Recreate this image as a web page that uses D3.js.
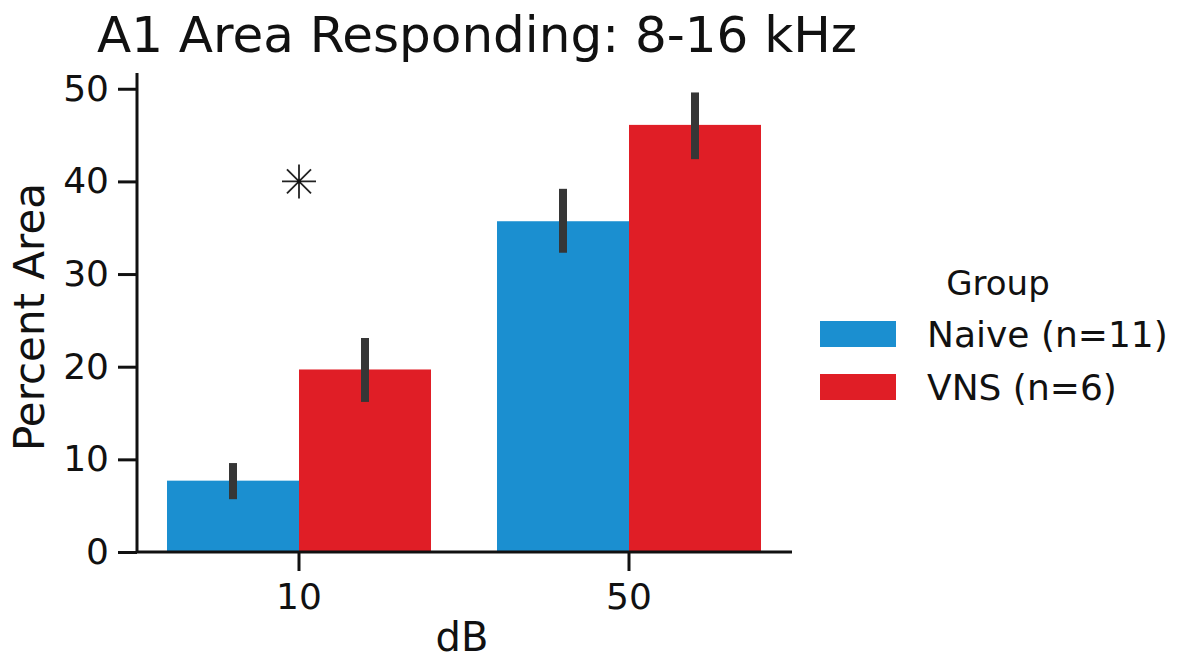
<!DOCTYPE html>
<html>
<head>
  <title>A1 Area Responding: 8-16 kHz</title>
  <script src="https://d3js.org/d3.v7.min.js"></script>
  <style>
    body { margin: 0; background: #fff; }
    text { font-family: "DejaVu Sans", sans-serif; fill: #111; }
  </style>
</head>
<body>
  <div id="chart"></div>

  <script>
    // Values
    const categories = ["10", "50"];
    const groups = ["Naive (n=11)", "VNS (n=6)"];
    const naiveMean = [7.7, 35.7];
    const naiveLow = [5.7, 32.3];
    const naiveHigh = [9.6, 39.2];
    const vnsMean = [19.7, 46.1];
    const vnsLow = [16.2, 42.4];
    const vnsHigh = [23.1, 49.6];
    const yTicks = [0, 10, 20, 30, 40, 50];
    const sigMarks = [{ dB: "10", value: 40 }];

    const colors = { "Naive (n=11)": "#1b8fd0", "VNS (n=6)": "#e01e26" };

    // Table for the bars, built from the arrays above
    const rows = [];
    categories.forEach((c, i) => {
      rows.push({ dB: c, group: groups[0], mean: naiveMean[i], lo: naiveLow[i], hi: naiveHigh[i] });
      rows.push({ dB: c, group: groups[1], mean: vnsMean[i], lo: vnsLow[i], hi: vnsHigh[i] });
    });

    const width = 1189;
    const height = 662;

    const svg = d3.select("#chart")
      .append("svg")
      .attr("width", width)
      .attr("height", height);

    // Scales
    const x = d3.scaleBand()
      .domain(categories)
      .range([134, 794])
      .paddingInner(0)
      .paddingOuter(0);

    const xSub = d3.scaleBand()
      .domain(groups)
      .range([0, x.bandwidth()])
      .paddingInner(0)
      .paddingOuter(0.25);

    const y = d3.scaleLinear()
      .domain([0, 51.7])
      .range([552, 73]);

    // Bars
    svg.append("g")
      .selectAll("rect")
      .data(rows)
      .enter()
      .append("rect")
      .attr("x", d => x(d.dB) + xSub(d.group))
      .attr("y", d => y(d.mean))
      .attr("width", xSub.bandwidth())
      .attr("height", d => y(0) - y(d.mean))
      .attr("fill", d => colors[d.group]);

    // Error bars
    svg.append("g")
      .selectAll("line")
      .data(rows)
      .enter()
      .append("line")
      .attr("x1", d => x(d.dB) + xSub(d.group) + xSub.bandwidth() / 2)
      .attr("x2", d => x(d.dB) + xSub(d.group) + xSub.bandwidth() / 2)
      .attr("y1", d => y(d.lo))
      .attr("y2", d => y(d.hi))
      .attr("stroke", "#363636")
      .attr("stroke-width", 8);

    // Significance asterisk
    const star = svg.append("g")
      .selectAll("g")
      .data(sigMarks)
      .enter()
      .append("g")
      .attr("transform", d => `translate(${x(d.dB) + x.bandwidth() / 2}, ${y(d.value)})`);
    [0, 45, 90, 135].forEach(a => {
      star.append("line")
        .attr("x1", -17).attr("x2", 17)
        .attr("y1", 0).attr("y2", 0)
        .attr("transform", `rotate(${a})`)
        .attr("stroke", "#222")
        .attr("stroke-width", 1.8);
    });
    star.append("circle").attr("r", 2.2).attr("fill", "#111");

    // Y axis
    const yAxis = svg.append("g")
      .attr("transform", "translate(137, 0)")
      .call(d3.axisLeft(y).tickValues(yTicks).tickSize(19).tickPadding(9).tickSizeOuter(0));
    yAxis.select(".domain").remove();
    yAxis.append("line")
      .attr("x1", 0).attr("x2", 0)
      .attr("y1", y.range()[1]).attr("y2", y(0))
      .attr("stroke", "#111").attr("stroke-width", 3);
    yAxis.selectAll(".tick line").attr("stroke", "#111").attr("stroke-width", 3);
    yAxis.selectAll(".tick text").style("font-size", "36px").attr("fill", "#111");

    // X axis
    const xAxis = svg.append("g")
      .attr("transform", `translate(0, ${y(0)})`)
      .call(d3.axisBottom(x).tickSize(19).tickPadding(12).tickSizeOuter(0));
    xAxis.select(".domain").remove();
    xAxis.append("line")
      .attr("x1", 136).attr("x2", 792)
      .attr("y1", 0).attr("y2", 0)
      .attr("stroke", "#111").attr("stroke-width", 3);
    xAxis.selectAll(".tick line").attr("stroke", "#111").attr("stroke-width", 3);
    xAxis.selectAll(".tick text").style("font-size", "36px").attr("fill", "#111");

    // Axis labels and title
    svg.append("text")
      .attr("x", 462)
      .attr("y", 651)
      .attr("text-anchor", "middle")
      .style("font-size", "40px")
      .text("dB");

    svg.append("text")
      .attr("transform", `translate(44, 317) rotate(-90)`)
      .attr("text-anchor", "middle")
      .style("font-size", "42px")
      .text("Percent Area");

    svg.append("text")
      .attr("x", 477)
      .attr("y", 52)
      .attr("text-anchor", "middle")
      .style("font-size", "50px")
      .text("A1 Area Responding: 8-16 kHz");

    // Legend
    const legend = svg.append("g");
    legend.append("text")
      .attr("x", 998)
      .attr("y", 295)
      .attr("text-anchor", "middle")
      .style("font-size", "34px")
      .text("Group");

    const items = legend.selectAll("g.item")
      .data(groups)
      .enter()
      .append("g")
      .attr("class", "item")
      .attr("transform", (d, i) => `translate(820, ${321 + i * 53})`);
    items.append("rect")
      .attr("width", 76)
      .attr("height", 26)
      .attr("fill", d => colors[d]);
    items.append("text")
      .attr("x", 107)
      .attr("y", 26)
      .style("font-size", "36px")
      .text(d => d);
  </script>
</body>
</html>
